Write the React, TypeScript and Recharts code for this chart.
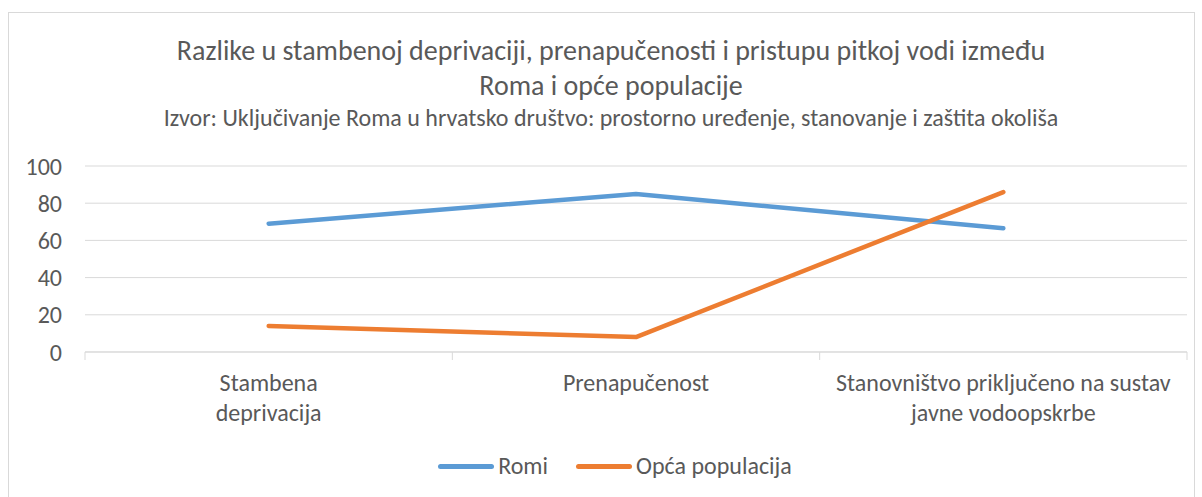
import { LineChart, Line, XAxis, YAxis, CartesianGrid } from "recharts";

const categories = [
  ["Stambena", "deprivacija"],
  ["Prenapučenost"],
  ["Stanovništvo priključeno na sustav", "javne vodoopskrbe"],
];
const romi = [69, 85, 66.5];
const opca = [14, 8, 86];
const yTicks = [0, 20, 40, 60, 80, 100];

const SERIES = [
  { key: "romi", name: "Romi", color: "#5b9bd5" },
  { key: "opca", name: "Opća populacija", color: "#ed7d31" },
];

const titleLines = [
  "Razlike u stambenoj deprivaciji, prenapučenosti i pristupu pitkoj vodi između",
  "Roma i opće populacije",
];
const subtitle =
  "Izvor: Uključivanje Roma u hrvatsko društvo: prostorno uređenje, stanovanje i zaštita okoliša";

// x runs on a numeric axis so the tick marks sit on category boundaries (0..3)
const data = categories.map((_, i) => ({ x: i + 0.5, romi: romi[i], opca: opca[i] }));
const xTicks = [0, 0.5, 1, 1.5, 2, 2.5, 3];

const FONT = "Carlito, 'Open Sans', sans-serif";
const INK = "#595959";

function CatTick(props: any) {
  const { x, y, payload } = props;
  const v = payload.value as number;
  if (Number.isInteger(v)) {
    return <line x1={x} x2={x} y1={y - 8} y2={y} stroke="#d9d9d9" />;
  }
  const lines = categories[Math.floor(v)];
  return (
    <text x={x} y={y} textAnchor="middle" fill={INK} fontSize={24} fontFamily={FONT}>
      {lines.map((l, i) => (
        <tspan key={i} x={x} dy={i === 0 ? 31 : 30}>
          {l}
        </tspan>
      ))}
    </text>
  );
}

export default function App() {
  return (
    <div style={{ position: "absolute", left: 0, top: 0, width: 1202, height: 497, background: "#fff", overflow: "hidden" }}>
      <div style={{ position: "absolute", left: 8, top: 12, width: 1187, height: 500, border: "1px solid #d9d9d9", boxSizing: "border-box" }} />
      <div style={{ position: "absolute", left: 0, top: 33, width: 1222, textAlign: "center", fontFamily: FONT, color: INK }}>
        {titleLines.map((t) => (
          <div key={t} style={{ fontSize: 28, lineHeight: "35px", height: 35, whiteSpace: "nowrap" }}>
            {t}
          </div>
        ))}
        <div style={{ fontSize: 24, lineHeight: "30px", whiteSpace: "nowrap" }}>{subtitle}</div>
      </div>
      <LineChart
        width={1202}
        height={497}
        data={data}
        margin={{ top: 166, right: 15, left: 0, bottom: 0 }}
        style={{ position: "absolute", left: 0, top: 0 }}
      >
        <CartesianGrid vertical={false} stroke="#d9d9d9" />
        <XAxis
          dataKey="x"
          type="number"
          domain={[0, 3]}
          ticks={xTicks}
          interval={0}
          tick={<CatTick />}
          tickLine={false}
          axisLine={{ stroke: "#d9d9d9" }}
          height={145}
        />
        <YAxis
          domain={[0, 100]}
          ticks={yTicks}
          width={85}
          axisLine={false}
          tickLine={false}
          tickMargin={17}
          tick={{ fill: INK, fontSize: 24, fontFamily: FONT }}
        />
        {SERIES.map((s) => (
          <Line
            key={s.key}
            dataKey={s.key}
            name={s.name}
            stroke={s.color}
            strokeWidth={4.5}
            strokeLinecap="round"
            strokeLinejoin="round"
            dot={false}
            activeDot={false}
            isAnimationActive={false}
          />
        ))}
      </LineChart>
      <div
        style={{
          position: "absolute",
          left: 0,
          top: 451,
          width: 1230,
          display: "flex",
          justifyContent: "center",
          gap: 28,
          fontFamily: FONT,
          fontSize: 24,
          lineHeight: "30px",
          color: INK,
        }}
      >
        {SERIES.map((s) => (
          <span key={s.key} style={{ display: "flex", alignItems: "center", gap: 4 }}>
            <span style={{ width: 56, height: 5, borderRadius: 3, background: s.color }} />
            {s.name}
          </span>
        ))}
      </div>
    </div>
  );
}
